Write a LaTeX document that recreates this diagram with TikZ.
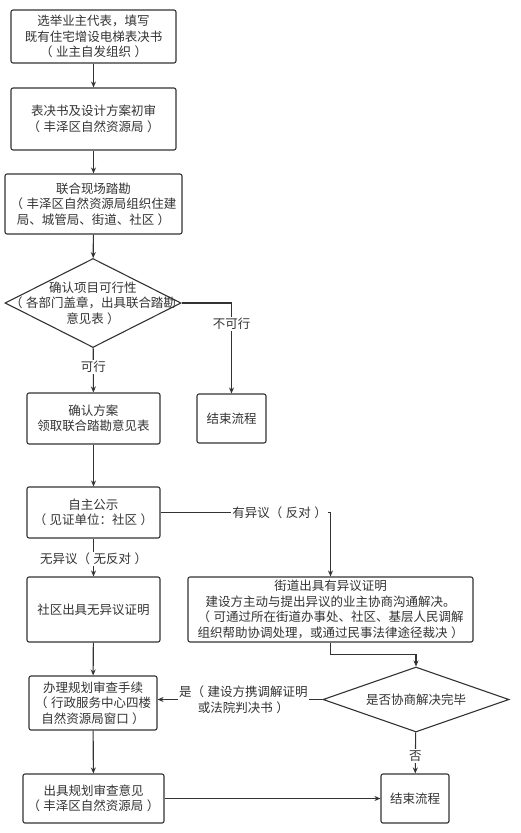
\documentclass[tikz,border=0pt]{standalone}
\usepackage{fontspec}
\setmainfont{Noto Sans CJK SC}[Kerning=Off]
\usetikzlibrary{shapes.geometric, arrows.meta, positioning}
\definecolor{inkgray}{HTML}{333333}
\newcommand{\opn}{（\kern3.5pt}
\newcommand{\cls}{\kern3.5pt）}
\tikzset{
  every node/.style={font=\fontsize{12.5}{15.5}\selectfont, text=inkgray},
  box/.style={ % Sets the properties for each step box
    draw=inkgray,
    line width=1.1pt,
    rounded corners=2pt,
    align=center,
    inner sep=0pt},
  decision/.style={ % Diamond for the questions
    draw=inkgray,
    line width=1.1pt,
    diamond,
    inner sep=0pt},
  flow/.style={ % Sets the properties for each connector
    draw=inkgray,
    line width=1.1pt,
    -{Stealth[length=6pt,width=5pt]}},
  tag/.style={fill=white, inner sep=1.5pt, align=center}}

\begin{document}
\begin{tikzpicture}[x=1pt, y=-1pt]
  \fill[white] (0,0) rectangle (520,833);
  \useasboundingbox (0,0) rectangle (520,833);
  % left column
  \node[box, minimum width=165pt, minimum height=53pt] (elect) at (93.5,36.5)
    {选举业主代表，填写\\既有住宅增设电梯表决书\\\opn 业主自发组织\cls};
  \node[box, minimum width=165pt, minimum height=62pt] (review) at (93.5,119)
    {表决书及设计方案初审\\\opn 丰泽区自然资源局\cls};
  \node[box, minimum width=177pt, minimum height=60pt] (survey) at (93.5,204)
    {联合现场踏勘\\\opn 丰泽区自然资源局组织住建\\局、城管局、街道、社区\cls};
  \node[decision, minimum width=176pt, minimum height=89pt,
    label={[align=center]center:确认项目可行性\\\opn 各部门盖章，出具联合踏勘\\意见表\cls}] (feasible) at (93,303) {};
  \node[box, minimum width=69pt, minimum height=49pt] (stop1) at (231.5,418.5) {结束流程};
  \node[box, minimum width=133pt, minimum height=51pt] (confirm) at (93.5,418.5)
    {确认方案\\领取联合踏勘意见表};
  \node[box, minimum width=133pt, minimum height=51pt] (notice) at (93.5,512.5)
    {自主公示\\\opn 见证单位：社区\cls};
  \node[box, minimum width=133pt, minimum height=65pt] (noobj) at (93.5,609.5)
    {社区出具无异议证明};
  \node[box, minimum width=285pt, minimum height=65pt] (objection) at (330.5,609.5)
    {街道出具有异议证明\\建设方主动与提出异议的业主协商沟通解决。\\\opn 可通过所在街道办事处、社区、基层人民调解\\组织帮助协调处理，或通过民事法律途径裁决\cls};
  \node[decision, minimum width=186pt, minimum height=65pt,
    label={center:是否协商解决完毕}] (settled) at (416,699.5) {};
  \node[box, minimum width=128pt, minimum height=54pt] (permit) at (93,703)
    {办理规划审查手续\\\opn 行政服务中心四楼\\自然资源局窗口\cls};
  \node[box, minimum width=141pt, minimum height=49pt] (opinion) at (93.5,798.5)
    {出具规划审查意见\\\opn 丰泽区自然资源局\cls};
  \node[box, minimum width=68pt, minimum height=49pt] (stop2) at (415,798.5) {结束流程};

  \draw[flow] (elect) -- (review);
  \draw[flow] (review) -- (survey);
  \draw[flow] (survey) -- (feasible);
  \draw[flow] (feasible.east) -| node[tag, pos=0.615] {不可行} (stop1.north);
  \draw[flow] (feasible) -- node[tag, pos=0.43] {可行} (confirm);
  \draw[flow] (confirm) -- (notice);
  \draw[flow] (notice) -- node[tag, pos=0.54] {无异议\opn 无反对\cls} (noobj);
  \draw[flow] (notice.east) -| node[tag, pos=0.35] {有异议\opn 反对\cls} (objection.north);
  \draw[flow] (objection.south) -- ++(0,12) -| (settled.north);
  \draw[flow] (settled.west) -- node[tag, pos=0.48] {是\opn 建设方携调解证明\\或法院判决书\cls} (permit.east |- settled.west);
  \draw[flow] (settled) -- node[tag, pos=0.57] {否} (stop2);
  \draw[flow] (noobj) -- (permit);
  \draw[flow] (permit) -- (opinion);
  \draw[flow] (opinion) -- (stop2);
\end{tikzpicture}
\end{document}
